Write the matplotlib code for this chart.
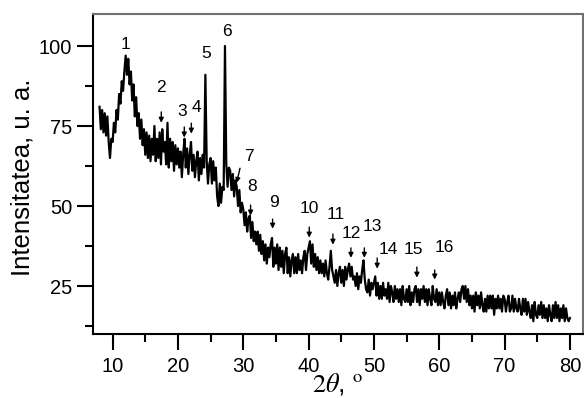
import numpy as np
import matplotlib
matplotlib.use("Agg")
import matplotlib.pyplot as plt
from matplotlib.ticker import MultipleLocator

plt.rcParams['font.family'] = ['Liberation Sans', 'DejaVu Sans']
plt.rcParams['mathtext.fontset'] = 'stix'

# 2-theta grid start/step (degrees) and intensities
two_theta_start = 8.0
two_theta_step = 0.2
intensity = [
    81, 74, 80, 73, 79,   # 8
    72, 78, 70, 65, 71,   # 9
    70, 76, 73, 80, 77,   # 10
    85, 82, 89, 86, 92,   # 11
    97, 91, 96, 88, 92,   # 12
    83, 88, 78, 84, 75,   # 13
    79, 71, 77, 69, 74,   # 14
    66, 73, 65, 72, 64,   # 15
    71, 66, 75, 64, 71,   # 16
    65, 73, 63, 74, 67,   # 17
    70, 63, 76, 62, 71,   # 18
    64, 70, 61, 69, 63,   # 19
    68, 62, 67, 59, 66,   # 20
    71, 62, 68, 60, 66,   # 21
    70, 61, 66, 59, 64,   # 22
    67, 58, 65, 60, 66,   # 23
    62, 91, 64, 57, 63,   # 24
    65, 57, 64, 58, 62,   # 25
    53, 50, 57, 51, 56,   # 26
    55, 100, 63, 56, 62,  # 27
    61, 55, 60, 53, 58,   # 28
    56, 50, 55, 48, 51,   # 29
    49, 44, 48, 42, 46,   # 30
    47, 40, 45, 39, 42,   # 31
    38, 42, 36, 41, 35,   # 32
    39, 33, 38, 32, 37,   # 33
    34, 38, 40, 31, 37,   # 34
    32, 38, 30, 37, 31,   # 35
    36, 29, 35, 37, 29,   # 36
    34, 28, 33, 35, 29,   # 37
    34, 29, 35, 30, 33,   # 38
    29, 34, 36, 30, 35,   # 39
    37, 39, 32, 38, 31,   # 40
    35, 30, 34, 29, 33,   # 41
    29, 32, 28, 33, 29,   # 42
    27, 31, 36, 30, 28,   # 43
    26, 30, 25, 29, 31,   # 44
    26, 30, 25, 31, 27,   # 45
    30, 32, 28, 31, 27,   # 46
    28, 25, 29, 24, 28,   # 47
    26, 30, 33, 27, 24,   # 48
    23, 27, 22, 26, 24,   # 49
    26, 28, 22, 26, 21,   # 50
    25, 21, 26, 22, 24,   # 51
    21, 26, 20, 25, 23,   # 52
    20, 25, 21, 24, 20,   # 53
    24, 19, 25, 21, 20,   # 54
    24, 20, 25, 19, 23,   # 55
    20, 24, 25, 20, 24,   # 56
    19, 24, 21, 25, 20,   # 57
    24, 19, 24, 21, 19,   # 58
    25, 21, 20, 24, 19,   # 59
    23, 19, 23, 20, 18,   # 60
    22, 24, 19, 23, 18,   # 61
    22, 19, 23, 18, 21,   # 62
    23, 20, 24, 25, 21,   # 63
    25, 20, 24, 19, 22,   # 64
    18, 22, 17, 23, 19,   # 65
    22, 18, 23, 19, 17,   # 66
    21, 17, 22, 18, 22,   # 67
    18, 22, 16, 21, 18,   # 68
    22, 18, 21, 17, 22,   # 69
    21, 17, 20, 22, 17,   # 70
    18, 22, 17, 21, 18,   # 71
    17, 21, 18, 16, 21,   # 72
    17, 21, 16, 20, 17,   # 73
    15, 19, 14, 20, 16,   # 74
    15, 19, 16, 20, 15,   # 75
    19, 15, 18, 14, 19,   # 76
    16, 14, 19, 15, 20,   # 77
    15, 19, 14, 18, 15,   # 78
    19, 14, 18, 15, 14,   # 79
    15,                   # 80
]
two_theta = two_theta_start + two_theta_step * np.arange(len(intensity))

# peak labels
peak_labels = [str(i) for i in range(1, 17)]
label_x = [12.0, 17.35, 20.7, 22.9, 24.34, 27.56, 30.86, 31.38, 34.69,
           40.05, 44.13, 46.53, 49.75, 52.14, 56.0, 60.7]
label_y = [100.6, 86.9, 79.4, 80.9, 97.7, 104.5, 65.6, 56.0, 51.0,
           49.3, 47.2, 41.25, 43.5, 36.5, 36.5, 37.0]
# arrows (None = no arrow): (x_start, y_start, x_tip, y_tip)
arrows = [None,
          (17.45, 79.4, 17.45, 76.0),
          (20.97, 74.7, 20.97, 71.4),
          (22.05, 75.9, 22.05, 72.6),
          None, None,
          (29.5, 61.8, 28.98, 57.2),
          (31.12, 50.3, 31.12, 47.0),
          (34.49, 45.9, 34.49, 42.9),
          (40.1, 43.4, 40.1, 40.1),
          (43.72, 41.25, 43.72, 37.9),
          (46.48, 36.9, 46.48, 33.8),
          (48.53, 36.9, 48.53, 33.8),
          (50.5, 33.75, 50.5, 30.4),
          (56.57, 30.9, 56.57, 27.6),
          (59.3, 30.0, 59.3, 27.0)]

fig = plt.figure(figsize=(5.84, 3.98), dpi=100)
ax = fig.add_axes([93/584, 1-334/398, (583-93)/584, (334-14)/398])

ax.plot(two_theta, intensity, color='black', lw=1.6)

for lab, tx, ty, arr in zip(peak_labels, label_x, label_y, arrows):
    ax.text(tx, ty, lab, ha='center', va='center', fontsize=12.5)
    if arr is not None:
        ax.annotate('', xy=(arr[2], arr[3]), xytext=(arr[0], arr[1]),
                    arrowprops=dict(arrowstyle='-|>', color='black', lw=1.0,
                                    mutation_scale=7, shrinkA=0, shrinkB=0))

ax.set_xlim(7, 82)
ax.set_ylim(10, 110)
ax.xaxis.set_major_locator(MultipleLocator(10))
ax.xaxis.set_minor_locator(MultipleLocator(5))
ax.yaxis.set_major_locator(MultipleLocator(25))
ax.yaxis.set_minor_locator(MultipleLocator(12.5))
ax.tick_params(which='both', direction='out', top=False, right=False,
               width=1.5, labelsize=14.5)
ax.tick_params(which='major', length=11.5)
ax.tick_params(which='minor', length=5.5)
ax.tick_params(axis='y', pad=3.5)
ax.tick_params(axis='x', pad=5)

for s in ['left', 'bottom']:
    ax.spines[s].set_linewidth(1.5)
    ax.spines[s].set_color('black')
for s in ['top', 'right']:
    ax.spines[s].set_linewidth(1.5)
    ax.spines[s].set_color('#707070')

ax.set_ylabel('Intensitatea, u. a.', fontsize=18.5)
ax.yaxis.set_label_coords(-0.12, 0.49)
ax.set_xlabel(r'$2\theta$, $^{\mathrm{o}}$', fontsize=19)
ax.xaxis.set_label_coords(0.5, -0.115)

fig.savefig('out.png', dpi=100)
